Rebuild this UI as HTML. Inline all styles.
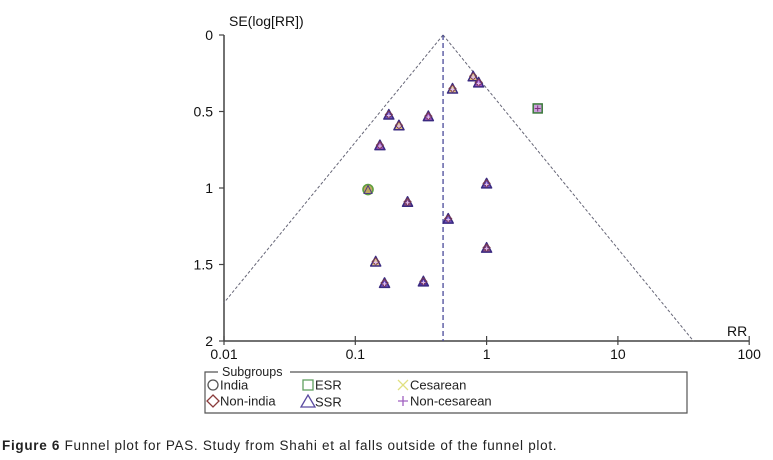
<!DOCTYPE html>
<html><head><meta charset="utf-8"><style>
html,body{margin:0;padding:0;background:#fff;width:773px;height:460px;overflow:hidden}
svg{display:block;font-family:"Liberation Sans",sans-serif}
.cap{position:absolute;left:2px;top:438px;font-family:"Liberation Sans",sans-serif;font-size:13.5px;letter-spacing:0.7px;color:#222;white-space:nowrap}
</style></head><body>
<svg id="chart" width="773" height="460" viewBox="0 0 773 460"></svg>
<div class="cap"><b>Figure 6</b> Funnel plot for PAS. Study from Shahi et al falls outside of the funnel plot.</div>
<script>
const xTicks=[0.01,0.1,1,10,100];
const xTickLabels=["0.01","0.1","1","10","100"];
const yTicks=[0,0.5,1,1.5,2];
const yTickLabels=["0","0.5","1","1.5","2"];
const pooledRR=0.466;
const studyRR=[0.79,0.87,0.55,2.45,0.18,0.36,0.215,0.154,1.0,0.125,0.25,0.51,1.0,0.143,0.167,0.33];
const studySE=[0.27,0.31,0.35,0.48,0.52,0.53,0.59,0.72,0.97,1.01,1.09,1.2,1.39,1.48,1.62,1.61];
const studyGroup=["tan","purple","tan","esr","blue","purple","tan","purple","blue","cesarean","brown","blue","brown","tan","blue","navy"];

const NS="http://www.w3.org/2000/svg";
const svg=document.getElementById('chart');
const X0=224,DEC=131.3,Y0=35,YU=153;
const xs=v=>X0+(Math.log10(v)+2)*DEC;
const ys=v=>Y0+v*YU;
function mk(tag,attrs,parent){const e=document.createElementNS(NS,tag);for(const k in attrs)e.setAttribute(k,attrs[k]);(parent||svg).appendChild(e);return e;}

let ax=mk('line',{x1:224,y1:Y0,x2:224,y2:ys(2),stroke:'#444','stroke-width':1.5});


let bx=mk('line',{x1:224,y1:ys(2),x2:xs(100),y2:ys(2),stroke:'#444','stroke-width':1.5});


yTicks.forEach((t,i)=>{
  const tk=mk('line',{x1:219,y1:ys(t),x2:224,y2:ys(t),stroke:'#444','stroke-width':1.2});
  
  
  const tx=mk('text',{x:213,y:ys(t)+5,'text-anchor':'end','font-size':14,fill:'#111'});
  tx.textContent=yTickLabels[i];
  
  
});
xTicks.forEach((t,i)=>{
  const tk=mk('line',{x1:xs(t),y1:ys(2)-5,x2:xs(t),y2:ys(2)+4,stroke:'#444','stroke-width':1.2});
  
  
  const tx=mk('text',{x:xs(t),y:ys(2)+18,'text-anchor':'middle','font-size':14,fill:'#111'});
  tx.textContent=xTickLabels[i];
  
  
});
let yt=mk('text',{x:229,y:26,'font-size':14,fill:'#111'});yt.textContent='SE(log[RR])';


let xt=mk('text',{x:727,y:336,'font-size':14,fill:'#111'});xt.textContent='RR';



const seMax=2;
const k=(Math.log10(pooledRR)+2)/1.75;
let fl=mk('line',{x1:xs(pooledRR),y1:ys(0),x2:xs(0.01),y2:ys(1.75),stroke:'#667','stroke-width':1,'stroke-dasharray':'3,2'});


let fr=mk('line',{x1:xs(pooledRR),y1:ys(0),x2:xs(10**(Math.log10(pooledRR)+k*seMax)),y2:ys(seMax),stroke:'#667','stroke-width':1,'stroke-dasharray':'3,2'});


let pl=mk('line',{x1:xs(pooledRR),y1:ys(0),x2:xs(pooledRR),y2:ys(2),stroke:'#4a4a9a','stroke-width':1.3,'stroke-dasharray':'5,3'});



const fills={tan:'#e0c080',purple:'#a050c0',blue:'#7050c0',brown:'#8a4a80',navy:'#5030a0'};
studyRR.forEach((r,i)=>{
  const cx=xs(r),cy=ys(studySE[i]),g=mk('g',{});
  
  
  const grp=studyGroup[i];
  if(grp==='esr'){
    mk('rect',{x:cx-4.5,y:cy-4.5,width:9,height:9,fill:'#c8a0d8',stroke:'#3a7a3a','stroke-width':1.5},g);
    mk('path',{d:`M${cx-3},${cy}H${cx+3}M${cx},${cy-3}V${cy+3}`,stroke:'#803080','stroke-width':1},g);
  }else if(grp==='cesarean'){
    mk('circle',{cx:cx,cy:cy,r:5,fill:'#c0a860',stroke:'#60a040','stroke-width':1.6},g);
    mk('path',{d:`M${cx-4},${cy+4}L${cx},${cy-4}L${cx+4},${cy+4}Z`,fill:'none',stroke:'#504080','stroke-width':1},g);
  }else{
    mk('path',{d:`M${cx-5},${cy+4.5}L${cx},${cy-5}L${cx+5},${cy+4.5}Z`,fill:fills[grp],stroke:'#3a2a80','stroke-width':1.5,'stroke-linejoin':'round'},g);
    mk('path',{d:`M${cx},${cy-3.5}L${cx+3.5},${cy}L${cx},${cy+3.5}L${cx-3.5},${cy}Z`,fill:'none',stroke:'#7a3a50','stroke-width':1},g);
    mk('path',{d:`M${cx-2},${cy+1}H${cx+2}M${cx},${cy-1}V${cy+3}`,stroke:'#e0c0f0','stroke-width':1},g);
  }
});

const lg=mk('g',{});


mk('path',{d:'M218,372H205V413H687V372H290',fill:'none',stroke:'#555','stroke-width':1.2},lg);
let lt=mk('text',{x:222,y:376,'font-size':12.5,fill:'#222'},lg);lt.textContent='Subgroups';
const items=[
 {x:208,y:385,shape:'circle',color:'#555',label:'India'},
 {x:208,y:401,shape:'diamond',color:'#8a3a3a',label:'Non-india'},
 {x:303,y:385,shape:'square',color:'#60a060',label:'ESR'},
 {x:303,y:402,shape:'triangle',color:'#5a4aa0',label:'SSR'},
 {x:398,y:385,shape:'x',color:'#e0e080',label:'Cesarean'},
 {x:398,y:401,shape:'plus',color:'#a060c0',label:'Non-cesarean'}];
items.forEach(it=>{
  const g=mk('g',{},lg);
  
  
  const cx=it.x+5,cy=it.y;
  if(it.shape==='circle')mk('circle',{cx,cy,r:5,fill:'none',stroke:it.color,'stroke-width':1.3},g);
  if(it.shape==='diamond')mk('path',{d:`M${cx},${cy-6}L${cx+6},${cy}L${cx},${cy+6}L${cx-6},${cy}Z`,fill:'none',stroke:it.color,'stroke-width':1.3},g);
  if(it.shape==='square')mk('rect',{x:cx-5,y:cy-5,width:10,height:10,fill:'none',stroke:it.color,'stroke-width':1.3},g);
  if(it.shape==='triangle')mk('path',{d:`M${cx-7},${cy+5}L${cx},${cy-7}L${cx+7},${cy+5}Z`,fill:'none',stroke:it.color,'stroke-width':1.3},g);
  if(it.shape==='x')mk('path',{d:`M${cx-5},${cy-5}L${cx+5},${cy+5}M${cx+5},${cy-5}L${cx-5},${cy+5}`,stroke:it.color,'stroke-width':1.3},g);
  if(it.shape==='plus')mk('path',{d:`M${cx-5},${cy}H${cx+5}M${cx},${cy-5}V${cy+5}`,stroke:it.color,'stroke-width':1.3},g);
  const t=mk('text',{x:it.x+12,y:cy+4.5,'font-size':13,fill:'#222'},g);t.textContent=it.label;
});
</script>
</body></html>
